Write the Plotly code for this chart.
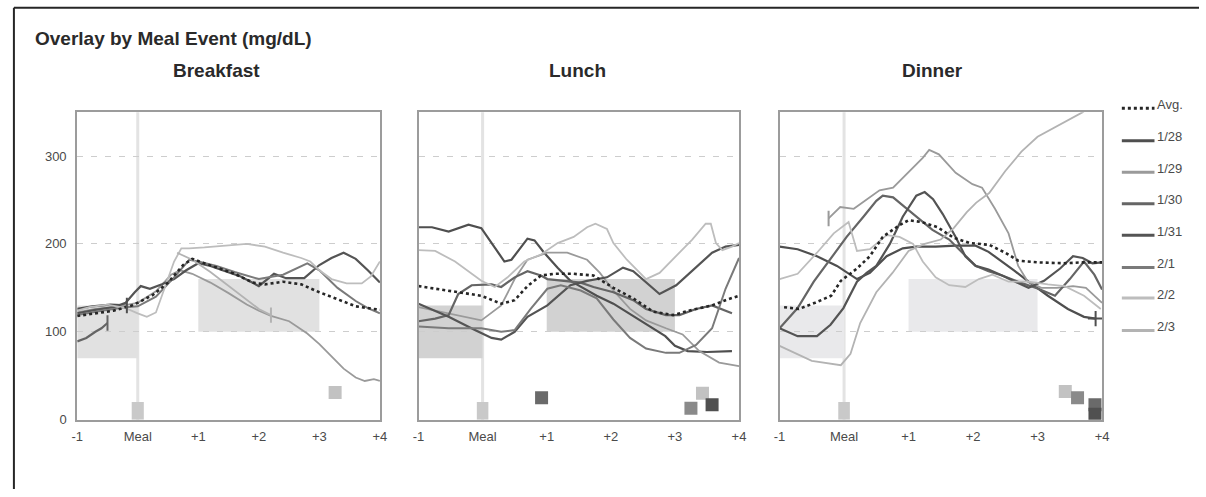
import plotly.graph_objects as go

# ---- axis ticks -------------------------------------------------------------
HOUR_TICKS = [-1, 0, 1, 2, 3, 4]
HOUR_LABELS = ["-1", "Meal", "+1", "+2", "+3", "+4"]
GLUCOSE_TICKS = [0, 100, 200, 300]
GLUCOSE_LABELS = ["0", "100", "200", "300"]
GLUCOSE_RANGE = [0, 350]

DAYS = ["Avg.", "1/28", "1/29", "1/30", "1/31", "2/1", "2/2", "2/3"]

# target ranges (hours relative to meal, mg/dL)
PRE_MEAL_HOURS = [-1, 0]
PRE_MEAL_RANGE = [70, 130]
POST_MEAL_HOURS = [1, 3]
POST_MEAL_RANGE = [100, 160]
MEAL_MARK = [0, 20]  # hour of the meal, height of the meal bar

# ---- glucose traces: (hour, mg/dL) -----------------------------------------
breakfast = {
    "Avg.": [(-1, 118), (-0.7, 121), (-0.4, 124), (-0.1, 130), (0, 133), (0.25, 142), (0.5, 156),
             (0.75, 176), (0.9, 183), (1.1, 178), (1.3, 173), (1.6, 166), (1.9, 156), (2.1, 154),
             (2.4, 157), (2.7, 154), (3.0, 145), (3.3, 137), (3.6, 129), (3.8, 127), (4.0, 125)],
    "1/28": [(-1, 126), (-0.75, 129), (-0.45, 131), (-0.18, 130)],
    "1/29": [(-1, 122), (-0.7, 126), (-0.4, 128), (0, 133), (0.3, 146), (0.55, 165), (0.7, 170),
             (0.9, 166), (1.2, 156), (1.5, 144), (1.8, 131), (2.0, 124), (2.2, 118), (2.5, 112),
             (2.8, 98), (3.0, 86), (3.2, 72), (3.4, 58), (3.6, 48), (3.75, 44), (3.9, 46), (4.0, 44)],
    "1/30": [(-1, 89), (-0.85, 93), (-0.7, 100), (-0.6, 104), (-0.5, 110)],
    "1/31": [(-1, 121), (-0.7, 125), (-0.4, 128), (-0.2, 133), (-0.05, 145), (0.05, 152), (0.2, 149),
             (0.4, 154), (0.6, 160), (0.8, 170), (1.0, 178), (1.2, 175), (1.4, 170), (1.7, 163),
             (2.0, 152), (2.1, 158), (2.25, 166), (2.45, 161), (2.75, 161), (3.0, 176), (3.2, 184),
             (3.4, 190), (3.6, 183), (3.8, 170), (4.0, 156)],
    "2/1": [(-1, 119), (-0.6, 124), (-0.2, 128), (0, 129), (0.3, 140), (0.6, 162), (0.85, 182),
            (1.0, 180), (1.3, 175), (1.6, 168), (2.0, 160), (2.4, 165), (2.8, 178), (3.0, 170),
            (3.3, 150), (3.6, 135), (3.8, 127), (4.0, 121)],
    "2/2": [(-1, 124), (-0.8, 128), (-0.5, 131), (-0.2, 127), (0, 121), (0.15, 117), (0.3, 122),
            (0.45, 150), (0.6, 180), (0.72, 195), (0.85, 195), (1.1, 196), (1.4, 198), (1.8, 200),
            (2.1, 197), (2.4, 190), (2.7, 184), (2.85, 180), (3.0, 170), (3.2, 160), (3.45, 155),
            (3.7, 155), (3.85, 163), (4.0, 180)],
    "2/3": [(0.65, 190), (0.9, 182), (1.2, 168), (1.5, 152), (1.8, 136), (2.0, 126), (2.2, 119)],
}

lunch = {
    "Avg.": [(-1, 152), (-0.53, 147), (-0.02, 141), (0.29, 132), (0.5, 136), (0.7, 152), (0.91, 164),
             (1.11, 166), (1.42, 166), (1.73, 164), (2.04, 150), (2.35, 138), (2.66, 123),
             (2.97, 119), (3.27, 125), (3.58, 130), (3.79, 136), (4.0, 141)],
    "1/28": [(-1, 219), (-0.79, 219), (-0.53, 214), (-0.22, 222), (-0.02, 218), (0.14, 201),
             (0.34, 180), (0.45, 182), (0.7, 206), (0.81, 204), (0.96, 190), (1.17, 173),
             (1.37, 158), (1.42, 156), (1.78, 141), (2.04, 132), (2.3, 120), (2.6, 106),
             (2.85, 95), (3.0, 84), (3.2, 78), (3.5, 77), (3.89, 78)],
    "1/29": [(-1, 128), (-0.53, 121), (-0.02, 113), (0.29, 130), (0.5, 160), (0.7, 182), (1.01, 190),
             (1.32, 190), (1.63, 182), (1.83, 167), (2.04, 147), (2.3, 126), (2.55, 113),
             (2.86, 104), (3.12, 97), (3.38, 78), (3.69, 65), (4.0, 61)],
    "1/30": [(-1, 112), (-0.74, 115), (-0.53, 119), (-0.38, 143), (-0.17, 153), (0.14, 154),
             (0.29, 151), (0.5, 162), (0.7, 169), (0.91, 164), (1.01, 160), (1.32, 158),
             (1.53, 156), (1.73, 151), (2.04, 145), (2.35, 136), (2.55, 126), (2.86, 119),
             (3.07, 119), (3.33, 126), (3.58, 130), (3.89, 121)],
    "1/31": [(-1, 132), (-0.53, 117), (-0.12, 102), (0.14, 93), (0.29, 91), (0.5, 100), (0.7, 117),
             (1.01, 130), (1.37, 153), (1.63, 158), (1.94, 162), (2.19, 173), (2.35, 169),
             (2.55, 156), (2.76, 143), (3.02, 153), (3.33, 173), (3.58, 190), (3.79, 197), (4.0, 199)],
    "2/1": [(-1, 106), (-0.53, 104), (-0.02, 104), (0.29, 100), (0.5, 102), (0.75, 126), (1.01, 149),
            (1.22, 153), (1.53, 147), (1.78, 138), (2.04, 114), (2.3, 93), (2.55, 81), (2.86, 76),
            (3.07, 76), (3.33, 85), (3.58, 104), (3.79, 149), (4.0, 184)],
    "2/2": [(-1, 193), (-0.74, 192), (-0.43, 180), (-0.22, 169), (-0.02, 158), (0.19, 151),
            (0.39, 162), (0.65, 180), (0.91, 188), (1.17, 201), (1.42, 208), (1.63, 219),
            (1.76, 223), (1.94, 217), (2.04, 201), (2.25, 182), (2.45, 167), (2.55, 160),
            (2.76, 167), (3.02, 186), (3.27, 205), (3.48, 223), (3.56, 223), (3.64, 201),
            (3.74, 193), (3.89, 197), (4.0, 201)],
}

dinner = {
    "Avg.": [(-0.93, 128), (-0.7, 126), (-0.45, 133), (-0.2, 141), (-0.05, 158), (0.2, 172),
             (0.4, 186), (0.6, 208), (0.85, 221), (1.0, 227), (1.2, 225), (1.45, 219), (1.7, 207),
             (1.95, 201), (2.25, 199), (2.5, 190), (2.7, 181), (3.0, 179), (3.4, 178), (3.7, 179),
             (4.0, 179)],
    "1/28": [(-1, 197), (-0.72, 194), (-0.42, 186), (-0.11, 175), (0.2, 160), (0.4, 167), (0.66, 186),
             (0.91, 195), (1.12, 197), (1.42, 197), (1.73, 198), (2.04, 198), (2.24, 191),
             (2.45, 180), (2.65, 169), (2.86, 157), (3.16, 141), (3.47, 126), (3.72, 117), (3.9, 115)],
    "1/29": [(-0.24, 229), (-0.06, 242), (0.15, 240), (0.35, 251), (0.55, 261), (0.76, 264),
             (1.01, 283), (1.22, 298), (1.32, 307), (1.47, 302), (1.73, 281), (1.99, 268),
             (2.14, 264), (2.34, 240), (2.55, 212), (2.7, 175), (2.85, 157), (3.06, 150),
             (3.3, 150), (3.55, 152), (3.75, 150), (4.0, 133)],
    "1/30": [(-1, 104), (-0.72, 127), (-0.47, 157), (-0.21, 183), (0.04, 208), (0.3, 231),
             (0.5, 249), (0.6, 255), (0.76, 253), (0.91, 244), (1.12, 231), (1.37, 216),
             (1.63, 205), (1.83, 190), (2.04, 175), (2.24, 169), (2.45, 164), (2.7, 157),
             (3.01, 149), (3.27, 141), (3.5, 160), (3.72, 180), (3.88, 165), (4.0, 148)],
    "1/31": [(-1, 104), (-0.72, 95), (-0.42, 95), (-0.21, 108), (-0.01, 127), (0.2, 157),
             (0.35, 167), (0.5, 175), (0.71, 200), (0.91, 231), (1.12, 255), (1.25, 259),
             (1.38, 251), (1.53, 234), (1.73, 208), (1.88, 186), (2.04, 175), (2.24, 171),
             (2.45, 164), (2.65, 157), (2.86, 150), (3.1, 158), (3.35, 172), (3.55, 186),
             (3.7, 184), (3.85, 178), (4.0, 179)],
    "2/2": [(-1, 160), (-0.72, 166), (-0.42, 190), (-0.16, 212), (0.07, 225), (0.2, 192), (0.4, 194),
            (0.66, 210), (0.86, 208), (1.07, 200), (1.22, 180), (1.42, 162), (1.63, 153),
            (1.88, 151), (2.09, 160), (2.3, 165), (2.55, 157), (2.86, 157), (3.16, 154),
            (3.42, 152), (3.72, 141), (3.98, 126)],
    "2/3": [(-1, 84), (-0.5, 67), (-0.05, 62), (0.1, 75), (0.25, 110), (0.5, 145), (0.75, 167),
            (1.0, 192), (1.25, 200), (1.5, 205), (1.7, 218), (1.9, 236), (2.05, 247), (2.25, 258),
            (2.5, 283), (2.75, 305), (3.0, 322), (3.3, 334), (3.55, 344), (3.7, 350), (3.8, 356)],
}

# insulin / carb events: (day, hour, mg/dL position)
breakfast_events = [("2/2", 3.26, 31)]
lunch_events = [("1/30", 0.92, 25), ("2/1", 3.25, 13), ("2/2", 3.43, 30), ("1/28", 3.58, 17)]
dinner_events = [("2/2", 3.43, 32), ("2/1", 3.62, 25), ("1/30", 3.89, 17), ("1/28", 3.89, 6)]

# where a day's trace starts/stops inside the window
breakfast_cuts = [("1/28", -1, "line-ns"), ("1/30", -1, "line-ns"), ("2/3", -1, "line-ns")]
lunch_cuts = []
dinner_cuts = [("1/29", 0, "line-ns"), ("1/28", -1, "cross-thin")]

# ---- styling ----------------------------------------------------------------
W, H = 1206, 497
FONT = "Liberation Sans, Arial, Helvetica, sans-serif"
TEXT = "#2a2a2a"
TICK_TEXT = "#4a4a4a"
DAY_STYLE = {
    "Avg.": dict(color="#262626", width=2.6, dash="3px,3px"),
    "1/28": dict(color="#4f4f4f", width=2.2),
    "1/29": dict(color="#9a9a9a", width=1.8),
    "1/30": dict(color="#656565", width=2.2),
    "1/31": dict(color="#545454", width=2.2),
    "2/1": dict(color="#7a7a7a", width=2.0),
    "2/2": dict(color="#bdbdbd", width=1.8),
    "2/3": dict(color="#b3b3b3", width=1.8),
}
MARK_COLOR = {"1/28": "#505050", "1/29": "#9a9a9a", "1/30": "#6a6a6a", "1/31": "#555555",
              "2/1": "#8a8a8a", "2/2": "#c2c2c2", "2/3": "#b5b5b5"}


def px_x(p):
    return p / W


def px_y(p):
    return 1 - p / H


Y_DOMAIN = [px_y(426.5), px_y(114)]
panels = [
    ("Breakfast", breakfast, breakfast_events, breakfast_cuts, (72, 378), 213, "#e1e1e1", 0.2),
    ("Lunch", lunch, lunch_events, lunch_cuts, (417, 741), 578, "#d2d2d2", 0.18),
    ("Dinner", dinner, dinner_events, dinner_cuts, (782, 1108), 937, "#e9e9eb", 0.18),
]

fig = go.Figure()
shapes = []
annotations = []

for i, (title, data, events, cuts, (left, right), title_x, box_color, bar_w) in enumerate(panels, start=1):
    xa = "x" if i == 1 else f"x{i}"
    ya = "y" if i == 1 else f"y{i}"

    # target boxes and the meal marker line
    for hrs, rng in ((PRE_MEAL_HOURS, PRE_MEAL_RANGE), (POST_MEAL_HOURS, POST_MEAL_RANGE)):
        shapes.append(dict(type="rect", xref=xa, yref=ya, x0=hrs[0], x1=hrs[1], y0=rng[0], y1=rng[1],
                           fillcolor=box_color, line=dict(width=0), layer="below"))
    shapes.append(dict(type="line", xref=xa, yref=f"{ya} domain", x0=MEAL_MARK[0], x1=MEAL_MARK[0],
                       y0=0, y1=1, line=dict(color="#e3e3e3", width=3), layer="below"))

    # meal bar
    fig.add_trace(go.Bar(x=[MEAL_MARK[0]], y=[MEAL_MARK[1]], width=bar_w, marker_color="#c9c9c9",
                         marker_line_width=0, xaxis=xa, yaxis=ya, showlegend=False, hoverinfo="skip"))

    # glucose traces (individual days first, average on top)
    order = [d for d in DAYS if d != "Avg." and d in data] + (["Avg."] if "Avg." in data else [])
    for day in order:
        pts = data[day]
        fig.add_trace(go.Scatter(x=[p[0] for p in pts], y=[p[1] for p in pts], mode="lines",
                                 line=DAY_STYLE[day], xaxis=xa, yaxis=ya, name=day,
                                 showlegend=False, hoverinfo="skip"))

    # start/stop ticks
    for day, idx, sym in cuts:
        h, v = data[day][idx]
        c = DAY_STYLE[day]["color"]
        fig.add_trace(go.Scatter(x=[h], y=[v], mode="markers", xaxis=xa, yaxis=ya, showlegend=False,
                                 hoverinfo="skip",
                                 marker=dict(symbol=sym, size=11, color=c, line=dict(color=c, width=2))))

    # event squares
    fig.add_trace(go.Scatter(x=[e[1] for e in events], y=[e[2] for e in events], mode="markers",
                             xaxis=xa, yaxis=ya, showlegend=False, hoverinfo="skip",
                             marker=dict(symbol="square", size=13,
                                         color=[MARK_COLOR[e[0]] for e in events], line=dict(width=0))))

    axis_line = dict(showline=True, mirror=True, linecolor="#9c9c9c", linewidth=2, zeroline=False,
                     fixedrange=True)
    fig.layout[f"xaxis{'' if i == 1 else i}"] = dict(
        domain=[px_x(left), px_x(right)], range=[-1, 4], anchor=ya, showgrid=False,
        tickvals=HOUR_TICKS, ticktext=HOUR_LABELS, ticks="outside", ticklen=4, tickcolor="white",
        tickfont=dict(size=13, color=TICK_TEXT, family=FONT), **axis_line)
    fig.layout[f"yaxis{'' if i == 1 else i}"] = dict(
        domain=Y_DOMAIN, range=GLUCOSE_RANGE, anchor=xa, showgrid=True, gridcolor="#cdcdcd",
        gridwidth=1, griddash="6px,8px", tickvals=GLUCOSE_TICKS, ticktext=GLUCOSE_LABELS, ticks="",
        ticklabelstandoff=6, showticklabels=(i == 1),
        tickfont=dict(size=13, color=TICK_TEXT, family=FONT), **axis_line)

    annotations.append(dict(text=f"<b>{title}</b>", xref="paper", yref="paper", x=px_x(title_x),
                            y=px_y(72), xanchor="center", yanchor="middle", showarrow=False,
                            font=dict(size=19, color=TEXT, family=FONT)))

# page title
annotations.append(dict(text="<b>Overlay by Meal Event (mg/dL)</b>", xref="paper", yref="paper",
                        x=px_x(27), y=px_y(39), xanchor="left", yanchor="middle", showarrow=False,
                        font=dict(size=19, color=TEXT, family=FONT)))

# legend drawn at the right
legend_y = [110, 143, 175, 207, 239, 272, 303, 336]
for day, ly in zip(DAYS, legend_y):
    st = DAY_STYLE[day]
    shapes.append(dict(type="line", xref="paper", yref="paper", x0=px_x(1128), x1=px_x(1161),
                       y0=px_y(ly), y1=px_y(ly),
                       line=dict(color=st["color"], width=3, dash=st.get("dash", "solid"))))
    annotations.append(dict(text=day, xref="paper", yref="paper", x=px_x(1162), y=px_y(ly - 4),
                            xanchor="left", yanchor="middle", showarrow=False,
                            font=dict(size=13, color=TICK_TEXT, family=FONT)))

# page frame: top and left edges
frame = dict(color="#262626", width=2)
shapes.append(dict(type="line", xref="paper", yref="paper", x0=px_x(8), x1=1.0,
                   y0=px_y(8), y1=px_y(8), line=frame))
shapes.append(dict(type="line", xref="paper", yref="paper", x0=px_x(8), x1=px_x(8),
                   y0=px_y(8), y1=0.0, line=frame))

fig.update_layout(width=W, height=H, margin=dict(l=0, r=0, t=0, b=0), paper_bgcolor="white",
                  plot_bgcolor="white", shapes=shapes, annotations=annotations, showlegend=False,
                  barmode="overlay", font=dict(family=FONT))

fig.write_html("out.html")
